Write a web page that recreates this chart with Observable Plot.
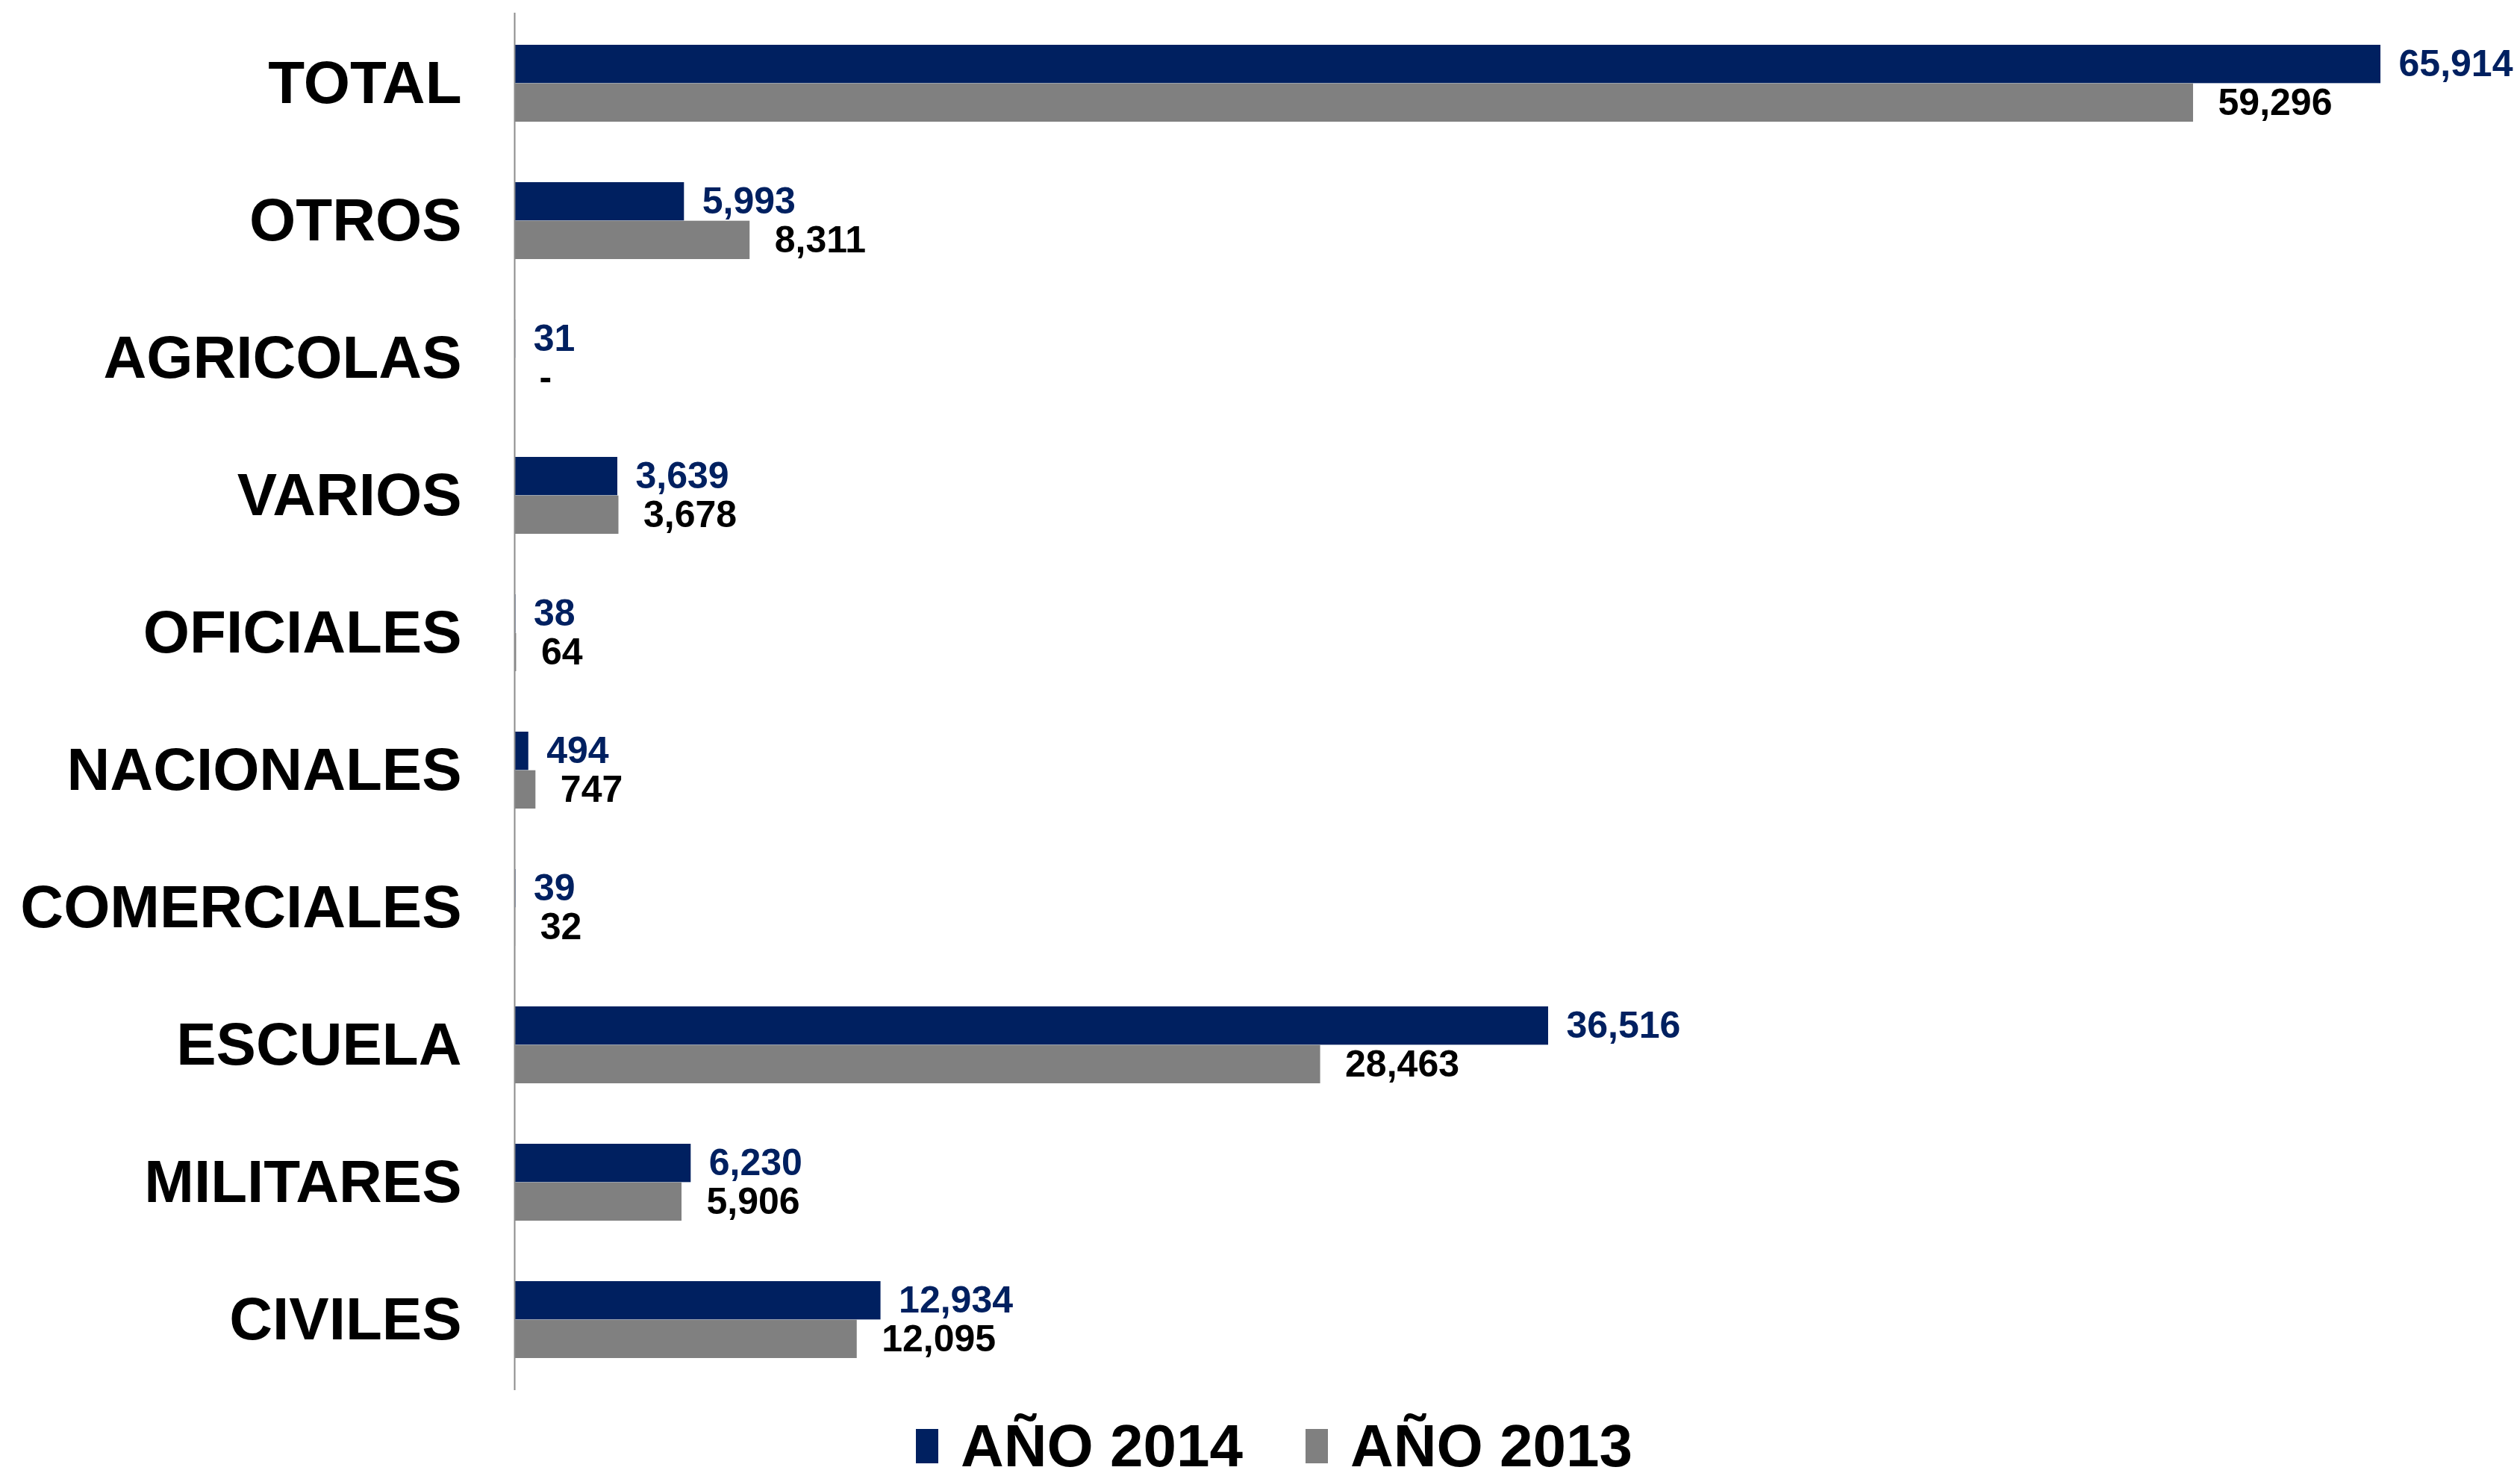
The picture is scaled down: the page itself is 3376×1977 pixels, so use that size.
<!DOCTYPE html>
<html>
<head>
<meta charset="utf-8">
<script src="https://cdn.jsdelivr.net/npm/d3@7"></script>
<script src="https://cdn.jsdelivr.net/npm/@observablehq/plot@0.6"></script>
<style>
  html, body { margin: 0; padding: 0; background: #fff; }
  body { width: 3376px; height: 1977px; overflow: hidden; font-family: "Liberation Sans", Arial, sans-serif; }
  #chart svg [aria-label="y-axis tick label"] text { font-size: 80px; font-weight: bold; fill: #000; }
  #legend { display: flex; justify-content: flex-start; align-items: center; height: 72px; margin-top: 16px; padding-left: 1227px; }
  .key { display: flex; align-items: center; font-size: 80px; line-height: 72px; font-weight: bold; color: #000; }
  .sw { width: 30px; height: 46px; margin-right: 30px; }
</style>
</head>
<body>
<div id="chart"></div>
<div id="legend"></div>
<script>
const categories = ["TOTAL","OTROS","AGRICOLAS","VARIOS","OFICIALES","NACIONALES","COMERCIALES","ESCUELA","MILITARES","CIVILES"];
const values2014 = [65914, 5993, 31, 3639, 38, 494, 39, 36516, 6230, 12934];
const values2013 = [59296, 8311, 0, 3678, 64, 747, 32, 28463, 5906, 12095];
const seriesNames = ["AÑO 2014", "AÑO 2013"];
const seriesColors = ["#002060", "#808080"];
const labelColors = ["#002060", "#000000"];

const rows = categories.map((c, i) => ({category: c, v14: values2014[i], v13: values2013[i]}));
const fmt = v => v === 0 ? "-" : d3.format(",")(v);

const W = 3376, H = 1885, mTop = 17, mBottom = 23, mLeft = 689, mRight = 32;
const pInner = 0.44, pOuter = 0.22;
const step = (H - mTop - mBottom) / (categories.length - pInner + 2 * pOuter);
const bw = step * (1 - pInner);

const plot = Plot.plot({
  width: W, height: H,
  marginTop: mTop, marginBottom: mBottom, marginLeft: mLeft, marginRight: mRight,
  style: {fontFamily: "'Liberation Sans', Arial, sans-serif", background: "#fff"},
  x: {domain: [0, 70000], axis: null},
  y: {domain: categories, paddingInner: pInner, paddingOuter: pOuter, label: null},
  marks: [
    Plot.barX(rows, {x: "v14", y: "category", fill: seriesColors[0], insetBottom: bw / 2}),
    Plot.barX(rows, {x: "v13", y: "category", fill: seriesColors[1], insetTop: bw / 2}),
    Plot.ruleX([0], {stroke: "#8c8c8c", strokeWidth: 2}),
    Plot.text(rows, {x: "v14", y: "category", dy: -bw / 4, dx: 24, text: d => fmt(d.v14), textAnchor: "start", fill: labelColors[0], fontSize: 50, fontWeight: "bold"}),
    Plot.text(rows, {x: "v13", y: "category", dy: bw / 4, dx: 33, text: d => fmt(d.v13), textAnchor: "start", fill: labelColors[1], fontSize: 50, fontWeight: "bold"}),
    Plot.axisY({tickSize: 0, tickPadding: 71, label: null, fontSize: 80})
  ]
});
document.getElementById("chart").appendChild(plot);

const legend = document.getElementById("legend");
seriesNames.forEach((name, i) => {
  const k = document.createElement("div");
  k.className = "key";
  if (i > 0) k.style.marginLeft = "84px";
  const s = document.createElement("div");
  s.className = "sw";
  s.style.background = seriesColors[i];
  k.appendChild(s);
  const t = document.createElement("span");
  t.textContent = name;
  k.appendChild(t);
  legend.appendChild(k);
});
</script>
</body>
</html>
